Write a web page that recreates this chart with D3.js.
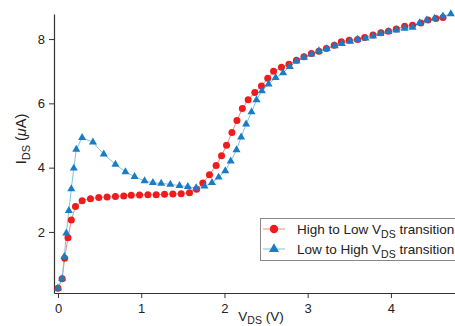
<!DOCTYPE html>
<html><head><meta charset="utf-8">
<script src="https://cdn.jsdelivr.net/npm/d3@7"></script>
<style>body{margin:0;background:#fff}svg{display:block}</style>
</head><body>
<svg id="c" width="455" height="326"></svg>
<script>
const highToLowV = [0,0.05,0.08,0.12,0.16,0.21,0.29,0.39,0.49,0.59,0.69,0.79,0.88,0.98,1.08,1.18,1.28,1.38,1.48,1.58,1.665,1.74,1.82,1.90,1.965,2.025,2.09,2.15,2.215,2.285,2.365,2.445,2.52,2.59,2.685,2.775,2.865,2.955,3.045,3.135,3.225,3.32,3.405,3.50,3.60,3.685,3.785,3.88,3.97,4.065,4.165,4.26,4.36,4.445,4.54,4.625];
const highToLowI = [0.25,0.54,1.18,1.82,2.37,2.79,2.97,3.03,3.07,3.09,3.10,3.12,3.14,3.15,3.16,3.16,3.17,3.18,3.19,3.22,3.33,3.52,3.78,4.07,4.37,4.70,5.09,5.47,5.84,6.11,6.34,6.54,6.78,7.00,7.12,7.22,7.34,7.45,7.55,7.62,7.71,7.81,7.92,7.96,7.99,8.05,8.13,8.20,8.24,8.31,8.40,8.43,8.50,8.59,8.64,8.67];
const lowToHighV = [0,0.05,0.076,0.10,0.13,0.16,0.19,0.22,0.29,0.42,0.55,0.69,0.81,0.92,1.04,1.14,1.24,1.35,1.46,1.56,1.66,1.76,1.85,1.93,2.01,2.075,2.145,2.2,2.26,2.325,2.385,2.45,2.53,2.615,2.705,2.785,2.865,2.955,3.045,3.135,3.23,3.325,3.41,3.51,3.60,3.695,3.785,3.875,3.97,4.065,4.165,4.26,4.345,4.43,4.525,4.625,4.72];
const lowToHighI = [0.25,0.55,1.23,1.96,2.66,3.34,3.98,4.57,4.93,4.79,4.42,4.10,3.87,3.72,3.59,3.53,3.51,3.48,3.44,3.41,3.37,3.42,3.53,3.70,3.90,4.20,4.55,4.95,5.35,5.73,6.11,6.39,6.60,6.80,6.95,7.14,7.31,7.43,7.53,7.63,7.70,7.79,7.86,7.93,7.99,8.03,8.09,8.17,8.23,8.28,8.33,8.36,8.50,8.59,8.64,8.71,8.78];
const xTicks = [0,1,2,3,4];
const yTicks = [2,4,6,8];

const svg = d3.select("#c");
const font = "'Liberation Sans', Arial, sans-serif";
const x = d3.scaleLinear().domain([-0.048, 4.77]).range([54, 455]);
const y = d3.scaleLinear().domain([0.1, 8.78]).range([293, 14]);

const axisColor = "#333";
const gx = svg.append("g").attr("transform", "translate(0,293)")
  .call(d3.axisBottom(x).tickValues(xTicks).tickFormat(d3.format("d")).tickSize(5).tickSizeOuter(0));
const gy = svg.append("g").attr("transform", "translate(54,0)")
  .call(d3.axisLeft(y).tickValues(yTicks).tickFormat(d3.format("d")).tickSize(5).tickSizeOuter(0));
[gx, gy].forEach(g => {
  g.select(".domain").attr("stroke", axisColor).attr("stroke-width", 1.2);
  g.selectAll(".tick line").attr("stroke", axisColor);
  g.selectAll(".tick text").attr("fill", "#222").style("font-family", font).style("font-size", "13px");
});
gx.selectAll(".tick text").attr("dy", "0.95em");
gy.selectAll(".tick text").attr("x", -9);

function series(vs, is, lineColor) {
  const pts = vs.map((v, k) => [v, is[k]]);
  svg.append("path").datum(pts)
    .attr("fill", "none").attr("stroke", lineColor).attr("stroke-width", 1)
    .attr("d", d3.line().x(d => x(d[0])).y(d => y(d[1])));
  return pts;
}
const redPts = series(highToLowV, highToLowI, "#f08a8a");
const bluePts = series(lowToHighV, lowToHighI, "#7cc4e4");

const red = "#ee1c1c", blue = "#1a7cc4";
svg.append("g").selectAll("circle").data(redPts).join("circle")
  .attr("cx", d => x(d[0])).attr("cy", d => y(d[1])).attr("r", 3.5).attr("fill", red);
const tri = d3.symbol().type(d3.symbolTriangle).size(28);
svg.append("g").selectAll("path").data(bluePts).join("path")
  .attr("transform", d => `translate(${x(d[0])},${y(d[1])})`).attr("d", tri).attr("fill", blue);

// Legend
const lg = svg.append("g");
lg.append("rect").attr("x", 260.5).attr("y", 218.5).attr("width", 210).attr("height", 42)
  .attr("fill", "#fff").attr("stroke", "#888").attr("stroke-width", 1);
const rows = [
  {label: "High to Low V", color: "#f08a8a", mk: "c", yy: 229},
  {label: "Low to High V", color: "#7cc4e4", mk: "t", yy: 249}
];
rows.forEach(r => {
  lg.append("line").attr("x1", 263).attr("x2", 285).attr("y1", r.yy).attr("y2", r.yy)
    .attr("stroke", r.color).attr("stroke-width", 1);
  if (r.mk === "c") lg.append("circle").attr("cx", 274).attr("cy", r.yy).attr("r", 4.2).attr("fill", red);
  else lg.append("path").attr("transform", `translate(274,${r.yy})`).attr("d", d3.symbol().type(d3.symbolTriangle).size(44)).attr("fill", blue);
  const t = lg.append("text").attr("x", 297).attr("y", r.yy + 4.5)
    .style("font-family", font).style("font-size", "13.5px").attr("fill", "#222");
  t.append("tspan").text(r.label);
  t.append("tspan").attr("dy", 4).style("font-size", "10.5px").text("DS");
  t.append("tspan").attr("dy", -4).text(" transition");
});

// Axis titles
const yt = svg.append("text").attr("transform", "translate(26,139) rotate(-90)")
  .attr("text-anchor", "middle").style("font-family", font).style("font-size", "14.5px").attr("fill", "#222");
yt.append("tspan").text("I");
yt.append("tspan").attr("dy", 4).style("font-size", "11px").text("DS");
yt.append("tspan").attr("dy", -4).text(" (");
yt.append("tspan").style("font-style", "italic").text("μ");
yt.append("tspan").text("A)");

const xt = svg.append("text").attr("x", 261).attr("y", 321)
  .attr("text-anchor", "middle").style("font-family", font).style("font-size", "13.5px").attr("fill", "#222");
xt.append("tspan").text("V");
xt.append("tspan").attr("dy", 3).style("font-size", "10.5px").text("DS");
xt.append("tspan").attr("dy", -3).text(" (V)");
</script>
</body></html>
